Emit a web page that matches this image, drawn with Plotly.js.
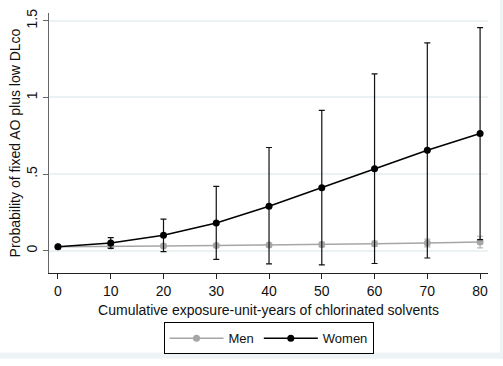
<!DOCTYPE html>
<html>
<head>
<meta charset="utf-8">
<script src="https://cdn.plot.ly/plotly-3.0.1.min.js"></script>
<style>
  html, body { margin: 0; padding: 0; background: #ffffff; }
  #chart { width: 503px; height: 366px; }
</style>
</head>
<body>
<div id="chart"></div>
<script>
// Exposure (unit-years)
var exposure = [0, 10, 20, 30, 40, 50, 60, 70, 80];
var xTickLabels = ["0", "10", "20", "30", "40", "50", "60", "70", "80"];
var yTickValues = [0, 0.5, 1, 1.5];
var yTickLabels = ["0", ".5", "1", "1.5"];

// Men
var menProb  = [0.025, 0.030, 0.031, 0.033, 0.036, 0.040, 0.045, 0.050, 0.056];
var menUpper = [0.031, 0.037, 0.041, 0.043, 0.048, 0.055, 0.063, 0.075, 0.094];
var menLower = [0.019, 0.023, 0.021, 0.023, 0.024, 0.025, 0.027, 0.025, 0.018];

// Women
var womenProb  = [0.025, 0.050, 0.100, 0.180, 0.290, 0.410, 0.535, 0.655, 0.764];
var womenUpper = [0.035, 0.085, 0.205, 0.420, 0.673, 0.916, 1.154, 1.356, 1.456];
var womenLower = [0.015, 0.015, -0.006, -0.057, -0.087, -0.093, -0.084, -0.048, 0.072];

function plus(hi, v) { return hi.map(function (h, i) { return h - v[i]; }); }
function minus(lo, v) { return lo.map(function (l, i) { return v[i] - l; }); }

var traces = [
  {
    name: "Men",
    x: exposure, y: menProb,
    type: "scatter", mode: "lines+markers",
    line: { color: "#a6a6a6", width: 1.5 },
    marker: { color: "#a6a6a6", size: 7, symbol: "circle" },
    error_y: {
      type: "data", symmetric: false,
      array: plus(menUpper, menProb), arrayminus: minus(menLower, menProb),
      color: "#b4b4b4", thickness: 1.2, width: 3
    }
  },
  {
    name: "Women",
    x: exposure, y: womenProb,
    type: "scatter", mode: "lines+markers",
    line: { color: "#000000", width: 1.5 },
    marker: { color: "#000000", size: 7, symbol: "circle" },
    error_y: {
      type: "data", symmetric: false,
      array: plus(womenUpper, womenProb), arrayminus: minus(womenLower, womenProb),
      color: "#111111", thickness: 1.2, width: 3
    }
  }
];

// plot area spans x 49..488, y 13..281 of the 503x366 page
var layout = {
  width: 503, height: 366,
  margin: { l: 49, r: 15, t: 13, b: 85 },
  paper_bgcolor: "#ffffff",
  plot_bgcolor: "#ffffff",
  font: { family: "Liberation Sans, Arial, sans-serif", size: 14, color: "#111111" },
  showlegend: true,
  legend: {
    orientation: "h",
    x: 0.5, xanchor: "center",
    y: -0.190, yanchor: "top",
    bordercolor: "#000000", borderwidth: 1,
    itemwidth: 54,
    font: { size: 13, color: "#111111" }
  },
  shapes: [
    // light outer frame on the right and bottom edges
    { type: "rect", xref: "paper", yref: "paper", x0: 1.0273, x1: 1.05, y0: -0.33, y1: 1.06,
      fillcolor: "#eef4f5", line: { width: 0 }, layer: "below" },
    { type: "rect", xref: "paper", yref: "paper", x0: -0.12, x1: 1.05, y0: -0.33, y1: -0.306,
      fillcolor: "#eef4f5", line: { width: 0 }, layer: "below" }
  ],
  xaxis: {
    range: [-1.7, 81.5],
    automargin: false,
    tickvals: exposure, ticktext: xTickLabels,
    showgrid: false, zeroline: false,
    showline: true, linecolor: "#222222", linewidth: 1,
    ticks: "outside", ticklen: 5, tickcolor: "#222222",
    tickfont: { size: 14 },
    title: { text: "Cumulative exposure-unit-years of chlorinated solvents", font: { size: 14 }, standoff: 7 }
  },
  yaxis: {
    range: [-0.146, 1.551],
    automargin: false,
    tickvals: yTickValues, ticktext: yTickLabels,
    tickangle: -90,
    showgrid: true, gridcolor: "#eaf2f3", gridwidth: 2,
    zeroline: false,
    showline: true, linecolor: "#666666", linewidth: 1,
    ticks: "outside", ticklen: 5, tickcolor: "#666666",
    tickfont: { size: 14 },
    title: { text: "Probability of fixed AO plus low DLco", font: { size: 14 }, standoff: 0 }
  }
};

Plotly.newPlot("chart", traces, layout, { displayModeBar: false, staticPlot: true });
</script>
</body>
</html>
